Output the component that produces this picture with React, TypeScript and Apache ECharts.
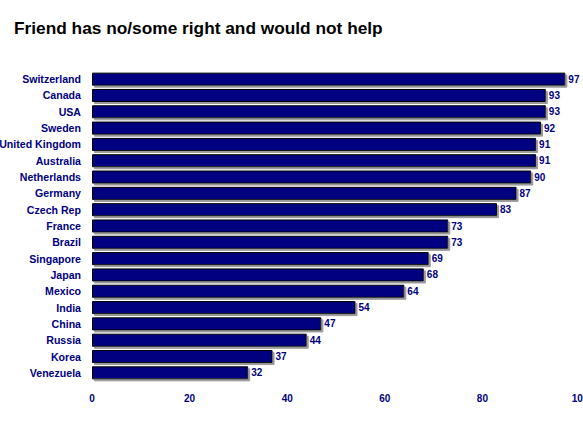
import React, { useEffect, useRef } from "react";
import * as echarts from "echarts";

const categories = [
  "Switzerland", "Canada", "USA", "Sweden", "United Kingdom", "Australia",
  "Netherlands", "Germany", "Czech Rep", "France", "Brazil", "Singapore",
  "Japan", "Mexico", "India", "China", "Russia", "Korea", "Venezuela",
];
const values = [97, 93, 93, 92, 91, 91, 90, 87, 83, 73, 73, 69, 68, 64, 54, 47, 44, 37, 32];
const titleText = "Friend has no/some right and would not help";

export default function App() {
  const ref = useRef<HTMLDivElement>(null);
  useEffect(() => {
    document.body.style.margin = "0";
    const chart = echarts.init(ref.current!, null, { renderer: "svg" });
    const font = "Arial, 'Liberation Sans', sans-serif";
    chart.setOption({
      animation: false,
      backgroundColor: "#ffffff",
      title: {
        text: titleText,
        left: 9,
        top: 14,
        textStyle: { fontFamily: font, fontSize: 17.3, fontWeight: "bold", color: "#000000" },
      },
      grid: {
        left: 92,
        right: 3,
        top: 71,
        bottom: 42,
        containLabel: false,
        outerBoundsMode: "none",
      },
      xAxis: {
        type: "value",
        min: 0,
        max: 100,
        interval: 20,
        axisLine: { show: false },
        axisTick: { show: false },
        splitLine: { show: false },
        axisLabel: {
          margin: 12,
          fontFamily: font,
          fontSize: 10,
          fontWeight: "bold",
          color: "#000080",
        },
      },
      yAxis: {
        type: "category",
        data: categories,
        inverse: true,
        axisLine: { show: false },
        axisTick: { show: false },
        axisLabel: {
          margin: 11,
          fontFamily: font,
          fontSize: 10.6,
          fontWeight: "bold",
          color: "#000080",
        },
      },
      series: [
        {
          type: "bar",
          data: values,
          barCategoryGap: "20%",
          itemStyle: {
            color: "#000080",
            borderColor: "#000000",
            borderWidth: 1,
            shadowColor: "#999999",
            shadowOffsetX: 2,
            shadowOffsetY: 2,
            shadowBlur: 0,
          },
          label: {
            show: true,
            position: "right",
            distance: 3,
            fontFamily: font,
            fontSize: 10,
            fontWeight: "bold",
            color: "#000080",
          },
        },
      ],
    });
    return () => chart.dispose();
  }, []);
  return <div ref={ref} style={{ width: 583, height: 423 }} />;
}
